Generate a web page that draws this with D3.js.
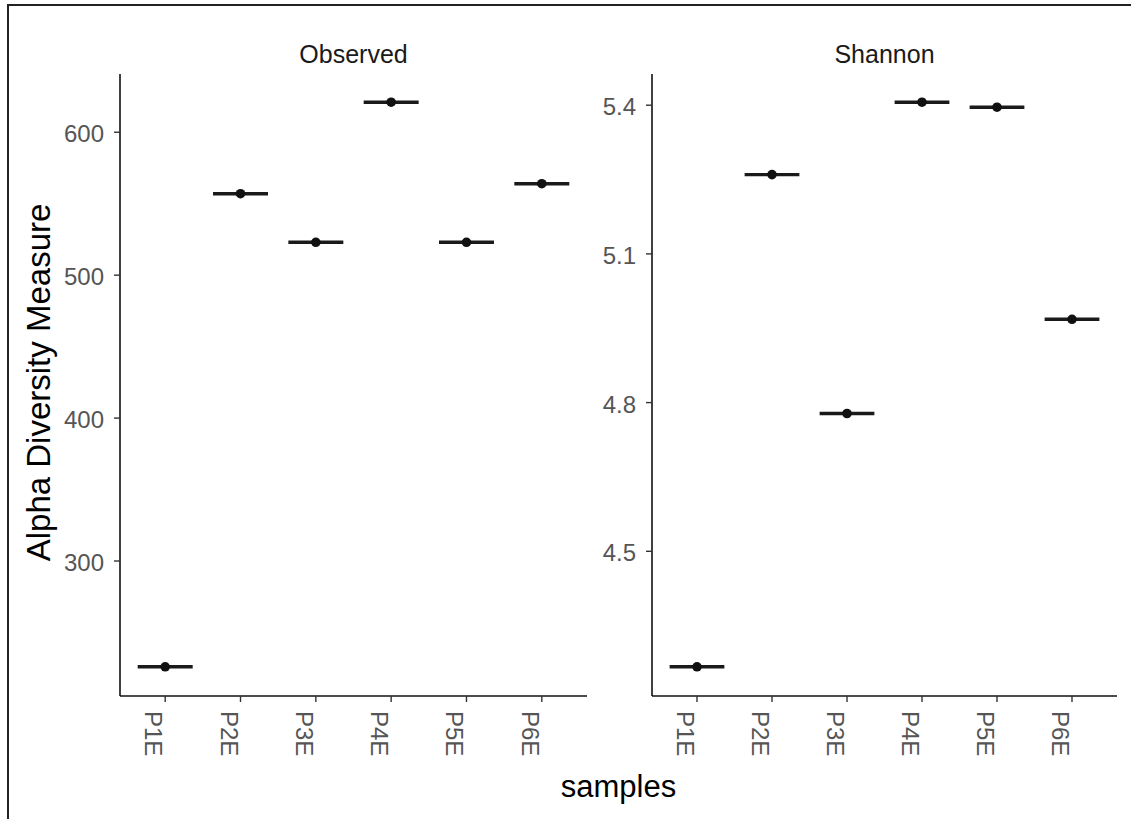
<!DOCTYPE html>
<html>
<head>
<meta charset="utf-8">
<script src="https://cdn.jsdelivr.net/npm/d3@7"></script>
<style>
  html, body { margin: 0; padding: 0; background: #fff; }
  svg { display: block; font-family: "Liberation Sans", Arial, sans-serif; }
</style>
</head>
<body>
<svg id="chart" width="1131" height="819"></svg>
<script>
// ---- data ----
const samples = ["P1E", "P2E", "P3E", "P4E", "P5E", "P6E"];
const observedValues = [226, 557, 523, 621, 523, 564];
const shannonValues = [4.267, 5.260, 4.778, 5.406, 5.396, 4.968];
const observedTicks = [300, 400, 500, 600];
const shannonTicks = [4.5, 4.8, 5.1, 5.4];
const panelNames = ["Observed", "Shannon"];

const panels = [
  { name: panelNames[0], values: observedValues, ticks: observedTicks, fmt: d3.format("d"), x0: 120, x1: 587 },
  { name: panelNames[1], values: shannonValues, ticks: shannonTicks, fmt: d3.format(".1f"), x0: 652, x1: 1117 }
];

const svg = d3.select("#chart");
svg.append("rect").attr("width", 1131).attr("height", 819).attr("fill", "#fff");

// outer frame (top and left edges)
svg.append("path").attr("d", "M8,819 L8,5 L1131,5")
  .attr("fill", "none").attr("stroke", "#222").attr("stroke-width", 2);

const yTop = 74, yBot = 695;

panels.forEach(p => {
  const ext = d3.extent(p.values);
  const pad = (ext[1] - ext[0]) * 0.05;
  const y = d3.scaleLinear().domain([ext[0] - pad, ext[1] + pad]).range([yBot, yTop]);
  const x = d3.scalePoint().domain(samples).range([p.x0, p.x1]).padding(0.6);
  const bw = x.step() * 0.73;

  const g = svg.append("g");

  // strip label
  g.append("text").attr("x", (p.x0 + p.x1) / 2).attr("y", 63)
    .attr("text-anchor", "middle").attr("font-size", 25).attr("fill", "#1a1a1a")
    .text(p.name);

  // y axis
  g.append("line").attr("x1", p.x0).attr("x2", p.x0).attr("y1", yTop).attr("y2", yBot + 1)
    .attr("stroke", "#111").attr("stroke-width", 1.6);
  p.ticks.forEach(t => {
    g.append("line").attr("x1", p.x0 - 6).attr("x2", p.x0).attr("y1", y(t)).attr("y2", y(t))
      .attr("stroke", "#333").attr("stroke-width", 1.4);
    g.append("text").attr("x", p.x0 - 16).attr("y", y(t) + 10)
      .attr("text-anchor", "end").attr("font-size", 24).attr("fill", "#555")
      .text(p.fmt(t));
  });

  // x axis
  g.append("line").attr("x1", p.x0).attr("x2", p.x1).attr("y1", yBot + 1).attr("y2", yBot + 1)
    .attr("stroke", "#111").attr("stroke-width", 1.6);
  samples.forEach(s => {
    const cx = x(s);
    g.append("line").attr("x1", cx).attr("x2", cx).attr("y1", yBot + 1).attr("y2", yBot + 7)
      .attr("stroke", "#333").attr("stroke-width", 1.4);
    g.append("text").attr("transform", `translate(${cx - 20},${yBot + 16}) rotate(90)`)
      .attr("text-anchor", "start").attr("font-size", 24).attr("fill", "#555")
      .text(s);
  });

  // crossbars and points
  samples.forEach((s, i) => {
    const cx = x(s), cy = y(p.values[i]);
    g.append("line").attr("x1", cx - bw / 2).attr("x2", cx + bw / 2).attr("y1", cy).attr("y2", cy)
      .attr("stroke", "#1a1a1a").attr("stroke-width", 3.4);
    g.append("circle").attr("cx", cx).attr("cy", cy).attr("r", 4.8).attr("fill", "#111");
  });
});

// axis titles
svg.append("text").attr("x", (120 + 1117) / 2).attr("y", 797)
  .attr("text-anchor", "middle").attr("font-size", 31).attr("fill", "#000").text("samples");
svg.append("text").attr("transform", `translate(50,${(yTop + yBot) / 2 - 2}) rotate(-90)`)
  .attr("text-anchor", "middle").attr("font-size", 33).attr("fill", "#000").text("Alpha Diversity Measure");
</script>
</body>
</html>
